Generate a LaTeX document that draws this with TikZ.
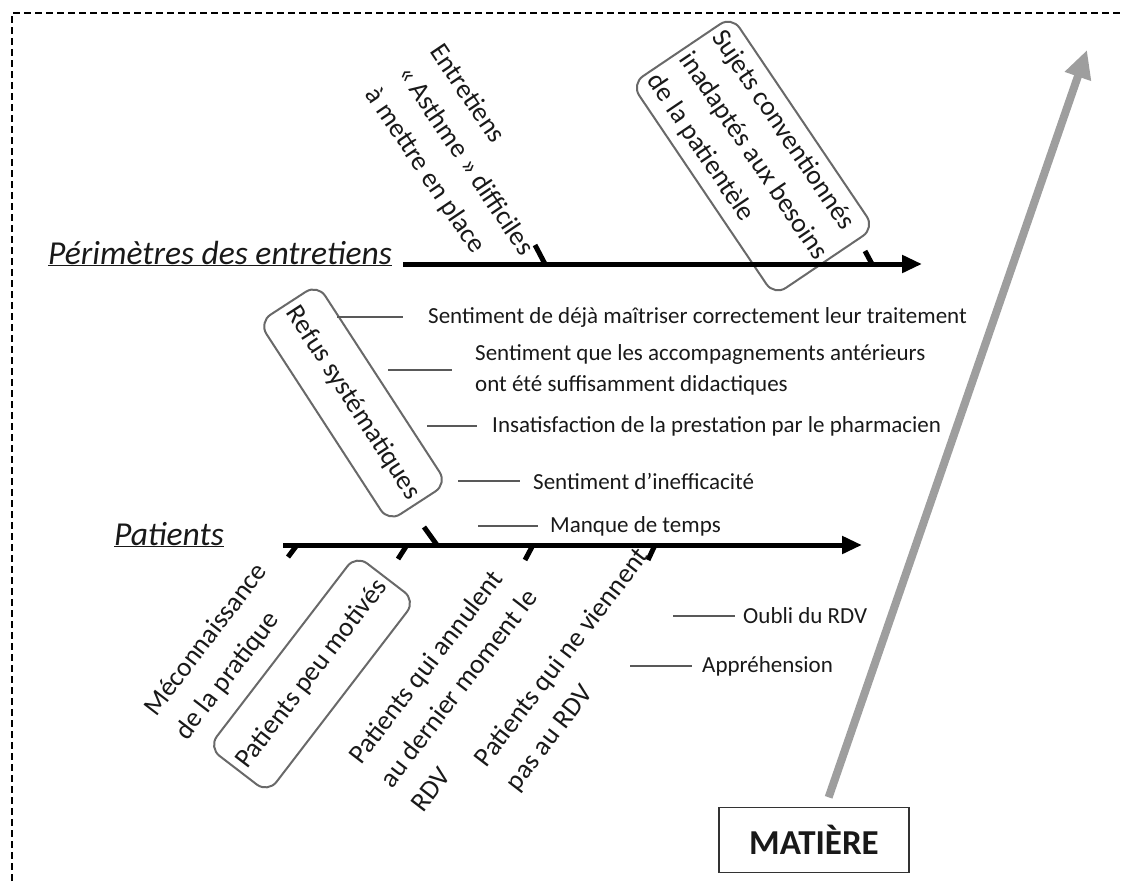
\documentclass[tikz,border=0pt]{standalone}
\usepackage{fontspec}
\setmainfont{Carlito}
\usetikzlibrary{arrows.meta}
\definecolor{arrowgray}{RGB}{158,158,158}
\definecolor{edgegray}{RGB}{105,105,105}

\begin{document}
\begin{tikzpicture}[
  x = 1pt, y = -1pt,
  every node/.style = {font=\fontsize{23}{31}\selectfont, text=black!90},
  spine/.style = {line width=5pt, -{Triangle[length=20pt,width=17pt]}},
  tick/.style = {line width=5pt},
  twig/.style = {line width=1.5pt, draw=black!65},
  cause/.style = {anchor=west, inner xsep=#1, inner ysep=0pt, align=left},
  cause/.default = 12pt,
  head/.style = {font=\fontsize{33.5}{38}\selectfont\itshape, inner sep=0pt, anchor=base east},
  bone/.style = {font=\fontsize{27.2}{39}\selectfont, align=left, inner sep=0pt},
  tiltbox/.style = {bone, draw=edgegray, line width=2pt, rounded corners=14pt,
    inner xsep=6pt, inner ysep=6pt},
  frame/.style = {line width=2pt, dash pattern=on 7pt off 4pt},
  bigarrow/.style = {draw=arrowgray, line width=8pt, -{Triangle[length=28pt,width=26pt]}}
]
\useasboundingbox (0,0) rectangle (1121,881);
\draw[frame] (12,881) -- (12,13) -- (1121,13);

% arête du haut
\node[head] (per) at (392,264) {\underline{Périmètres des entretiens}};
\coordinate (tipP) at (922,264);
\node[bone, rotate=-56] (ent) at (465,161) {Entretiens\\« Asthme » difficiles\\à mettre en place};
\node[tiltbox, rotate=-56, minimum width=244pt, minimum height=121pt] (suj) at (753,156)
  {Sujets conventionnés\\inadaptés aux besoins\\de la patientèle};
\draw[spine, shorten <=11pt] (per.base east) -- (tipP);
\draw[tick] (535,245) -- (545,264);
\draw[tick] (865,251) -- (872,264);

% refus
\node[tiltbox, rotate=-57, minimum width=238pt, minimum height=70pt] (ref) at (353,403) {Refus systématiques};
\node[cause=25pt] (c1) at (403,317) {Sentiment de déjà maîtriser correctement leur traitement};
\node[cause=23pt] (c2) at (452,370) {Sentiment que les accompagnements antérieurs\\ont été suffisamment didactiques};
\node[cause=15pt] (c3) at (477,426) {Insatisfaction de la prestation par le pharmacien};
\node[cause=13pt] (c4) at (520,481) {Sentiment d’inefficacité};
\node[cause=12pt] (c5) at (538,526) {Manque de temps};
\coordinate (t1) at (337,317);
\coordinate (t2) at (388,370);
\coordinate (t3) at (427,426);
\coordinate (t4) at (458,481);
\coordinate (t5) at (478,526);
\draw[twig] (t1) -- (c1);
\draw[twig] (t2) -- (c2);
\draw[twig] (t3) -- (c3);
\draw[twig] (t4) -- (c4);
\draw[twig] (t5) -- (c5);

% arête du bas
\node[head] (pat) at (224,545) {\underline{Patients}};
\coordinate (tipQ) at (862,545);
\draw[spine, shorten <=59pt] (pat.base east) -- (tipQ);
\draw[tick] (297,545) -- (288,557);
\draw[tick] (407,545) -- (398,559);
\draw[tick] (424,527) -- (437,545);
\draw[tick] (533,545) -- (525,560);
\draw[tick] (655,545) -- (648,560);

\node[bone, rotate=52.5] (mec) at (222,652) {Méconnaissance\\de la pratique};
\node[tiltbox, rotate=52.5, minimum width=241pt, minimum height=75pt] (mot) at (312,674) {Patients peu motivés};
\node[bone, rotate=52.5] (ann) at (458,688) {Patients qui annulent\\au dernier moment le\\RDV};
\node[bone, rotate=52.5] (vie) at (578,670) {Patients qui ne viennent\\pas au RDV};

\node[cause=8pt] (c6) at (735,616) {Oubli du RDV};
\node[cause=10pt] (c7) at (692,666) {Appréhension};
\coordinate (t6) at (673,616);
\coordinate (t7) at (630,666);
\draw[twig] (t6) -- (c6);
\draw[twig] (t7) -- (c7);

% matière
\node[draw=black!80, line width=1.5pt, font=\fontsize{35}{40}\selectfont\bfseries,
  minimum width=190pt, minimum height=65pt] (mat) at (814,840) {MATIÈRE};
\coordinate (goal) at (1087,50);
\draw[bigarrow, shorten <=10pt] (mat) -- (goal);
\end{tikzpicture}
\end{document}
